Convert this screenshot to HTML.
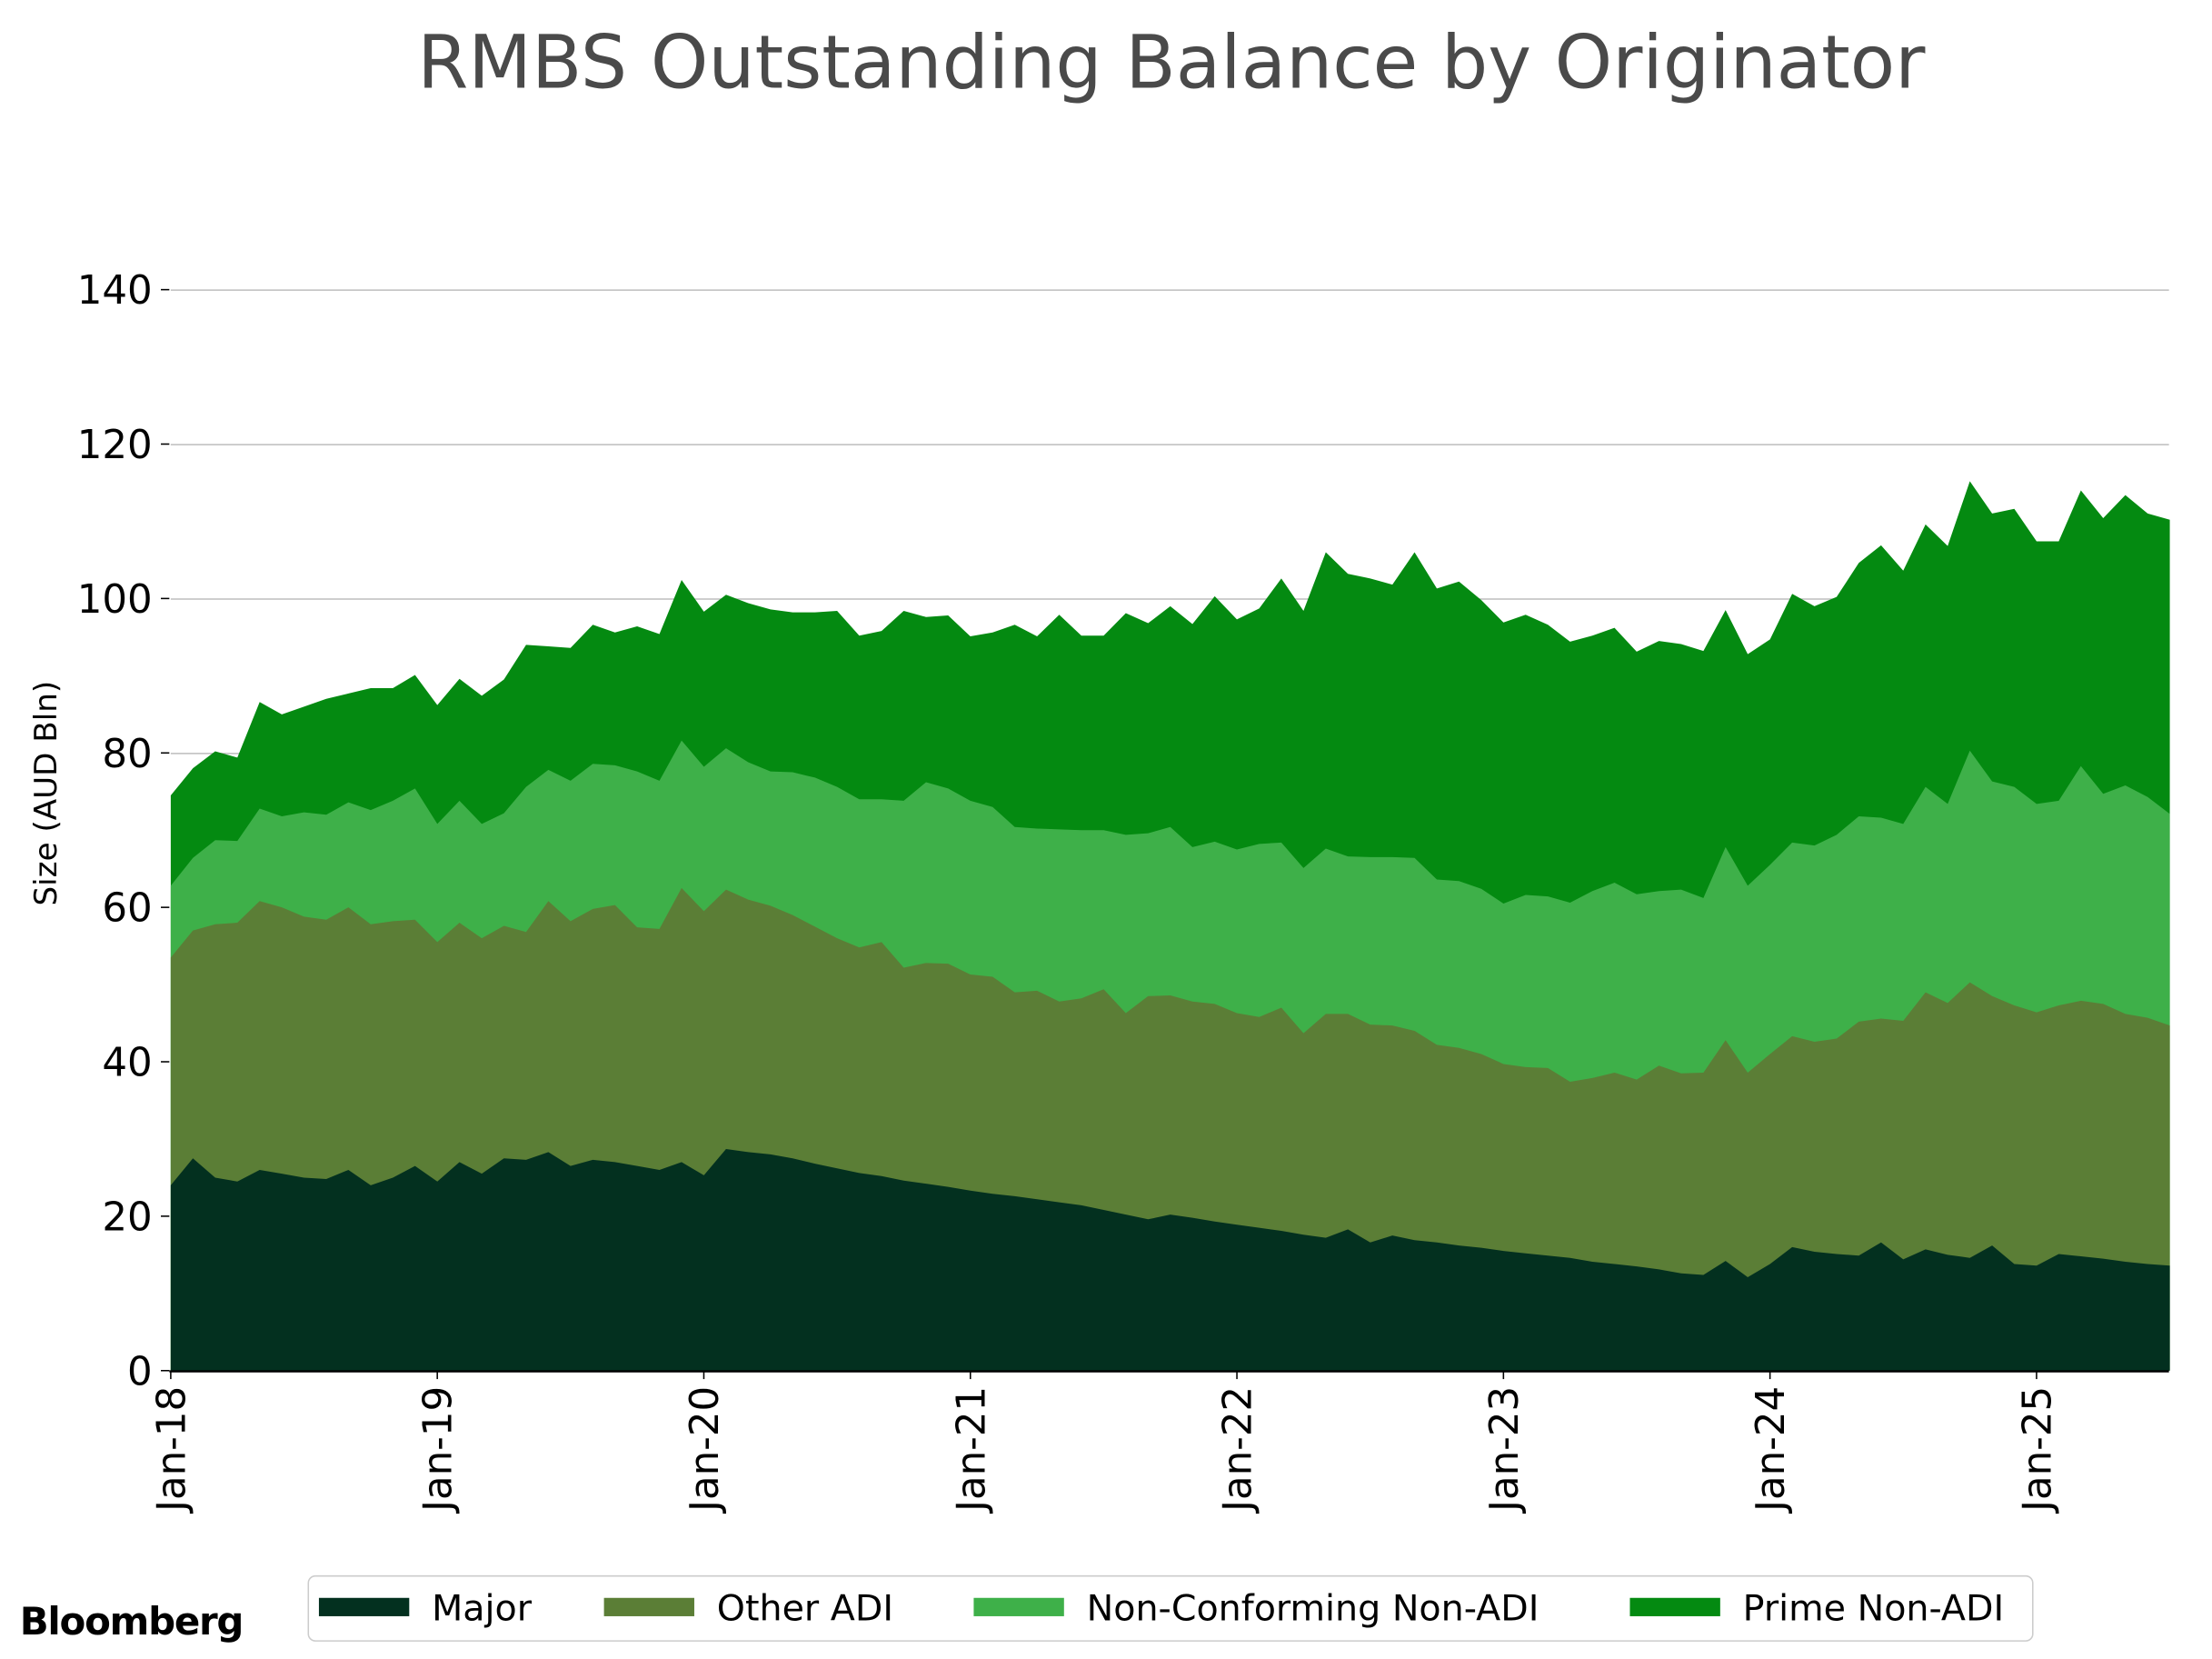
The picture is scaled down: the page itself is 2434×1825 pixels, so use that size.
<!DOCTYPE html>
<html><head><meta charset="utf-8"><style>
html,body{margin:0;padding:0;background:#fff}
svg{display:block}
text{font-family:"DejaVu Sans","Liberation Sans",sans-serif}
</style></head><body>
<svg id="s" width="2434" height="1825" viewBox="0 0 1567.5 1175.3" preserveAspectRatio="none" xmlns="http://www.w3.org/2000/svg">
<rect width="1568" height="1176" fill="#fff"/>
<text x="830" y="62" font-size="52" fill="#4a4a4a" text-anchor="middle">RMBS Outstanding Balance by Originator</text>
<g stroke="#bdbdbd" stroke-width="1">
<line x1="121" x2="1537" y1="205.5" y2="205.5"/>
<line x1="121" x2="1537" y1="315" y2="315"/>
<line x1="121" x2="1537" y1="424.4" y2="424.4"/>
<line x1="121" x2="1537" y1="533.8" y2="533.8"/>
<line x1="121" x2="1537" y1="643.2" y2="643.2"/>
<line x1="121" x2="1537" y1="752.6" y2="752.6"/>
<line x1="121" x2="1537" y1="862" y2="862"/>
</g>
<g id="areas"></g>
<line x1="120" x2="1537" y1="971.5" y2="971.5" stroke="#000" stroke-width="1.5"/>
<g id="yt" font-size="28" fill="#000" text-anchor="end"></g>
<g id="xt" font-size="28" fill="#000" text-anchor="end"></g>
<text transform="translate(40,562) rotate(-90)" font-size="22" text-anchor="middle" fill="#000">Size (AUD Bln)</text>
<rect x="218.5" y="1116.5" width="1222" height="46" rx="5" fill="#fff" stroke="#ccc"/>
<g font-size="25.5" fill="#000">
<rect x="226" y="1132" width="64" height="13" fill="#03301f"/><text x="306" y="1148">Major</text>
<rect x="428" y="1132" width="64" height="13" fill="#5b7e36"/><text x="508" y="1148">Other ADI</text>
<rect x="690" y="1132" width="64" height="13" fill="#3eb049"/><text x="770" y="1148">Non-Conforming Non-ADI</text>
<rect x="1155" y="1132" width="64" height="13" fill="#048a11"/><text x="1235" y="1148">Prime Non-ADI</text>
</g>
<text x="14" y="1158" font-size="27" font-weight="bold" fill="#000" font-family="Liberation Sans,sans-serif" letter-spacing="-0.8">Bloomberg</text>
</svg>
<script>
var M=[24,27.5,25,24.5,26,25.5,25,24.8,26,24,25,26.5,24.5,27,25.5,27.5,27.3,28.3,26.5,27.3,27,26.5,26,27,25.3,28.7,28.3,28,27.5,26.8,26.2,25.6,25.2,24.6,24.2,23.8,23.3,22.9,22.6,22.2,21.8,21.4,20.8,20.2,19.6,20.2,19.8,19.3,18.9,18.5,18.1,17.6,17.2,18.3,16.6,17.5,16.9,16.6,16.2,15.9,15.5,15.2,14.9,14.6,14.1,13.8,13.5,13.1,12.6,12.4,14.2,12.1,13.8,16,15.4,15.1,14.9,16.6,14.4,15.7,15,14.6,16.2,13.8,13.6,15.1,14.8,14.5,14.1,13.8,13.6];
var O=[53.5,57,57.8,58,60.8,60,58.8,58.4,60,57.8,58.2,58.4,55.5,58,56,57.6,56.8,60.8,58.2,59.8,60.3,57.4,57.2,62.5,59.5,62.3,61,60.2,59,57.5,56,54.8,55.5,52.2,52.8,52.7,51.3,51,49,49.2,47.8,48.2,49.4,46.3,48.5,48.6,47.8,47.5,46.3,45.8,47,43.7,46.2,46.2,44.8,44.7,44,42.2,41.8,41,39.7,39.3,39.2,37.4,37.9,38.6,37.7,39.5,38.5,38.6,42.8,38.6,41,43.3,42.6,43,45.2,45.6,45.3,49,47.6,50.3,48.5,47.3,46.4,47.3,47.9,47.5,46.2,45.7,44.7];
var N=[62.8,66.4,68.7,68.6,72.8,71.8,72.3,72,73.6,72.6,73.8,75.4,70.8,73.8,70.8,72.2,75.6,77.8,76.4,78.6,78.4,77.6,76.4,81.6,78.2,80.6,78.8,77.6,77.5,76.8,75.6,74,74,73.8,76.2,75.4,73.8,73,70.4,70.2,70.1,70,70,69.4,69.6,70.4,67.8,68.5,67.5,68.2,68.4,65.1,67.6,66.6,66.5,66.5,66.4,63.6,63.4,62.4,60.5,61.6,61.4,60.6,62.1,63.2,61.7,62.1,62.3,61.2,67.8,62.8,65.5,68.4,68,69.4,71.8,71.6,70.8,75.6,73.4,80.3,76.3,75.6,73.4,73.8,78.3,74.7,75.8,74.3,72.1];
var P=[74.5,78,80.2,79.4,86.6,85,86,87,87.7,88.4,88.4,90.1,86.2,89.6,87.4,89.5,94,93.8,93.6,96.6,95.6,96.4,95.4,102.4,98.3,100.5,99.4,98.6,98.2,98.2,98.4,95.2,95.8,98.4,97.6,97.8,95.1,95.6,96.6,95.1,97.9,95.2,95.2,98.1,96.8,99,96.7,100.3,97.3,98.7,102.6,98.4,106,103.2,102.6,101.8,106,101.3,102.2,99.8,96.9,97.9,96.6,94.4,95.2,96.2,93.1,94.5,94.1,93.2,98.5,92.8,94.7,100.6,99,100.2,104.6,106.9,103.6,109.6,106.8,115.2,111,111.6,107.4,107.4,114,110.4,113.4,111,110.2];
function X(i){return 121+i*15.74}function Y(v){return 971-v*5.47}
var ns="http://www.w3.org/2000/svg",g=document.getElementById('areas');
[[P,'#048a11'],[N,'#3eb049'],[O,'#5b7e36'],[M,'#03301f']].forEach(function(a){
 var d='M'+X(0)+','+Y(0);a[0].forEach(function(v,i){d+='L'+X(i).toFixed(1)+','+Y(v).toFixed(1)});
 d+='L'+X(a[0].length-1)+','+Y(0)+'Z';var p=document.createElementNS(ns,'path');p.setAttribute('d',d);p.setAttribute('fill',a[1]);g.appendChild(p);});
var yt=document.getElementById('yt');
for(var v=0;v<=140;v+=20){var t=document.createElementNS(ns,'text');t.setAttribute('x',108);t.setAttribute('y',Y(v)+10);t.textContent=v;yt.appendChild(t);
 var l=document.createElementNS(ns,'line');l.setAttribute('x1',114);l.setAttribute('x2',120);l.setAttribute('y1',Y(v));l.setAttribute('y2',Y(v));l.setAttribute('stroke','#000');yt.appendChild(l);}
var xt=document.getElementById('xt');
for(var k=0;k<8;k++){var x=X(k*12);var t=document.createElementNS(ns,'text');t.setAttribute('transform','translate('+(x+10)+',982) rotate(-90)');t.textContent='Jan-'+(18+k);xt.appendChild(t);
 var l=document.createElementNS(ns,'line');l.setAttribute('x1',x);l.setAttribute('x2',x);l.setAttribute('y1',971);l.setAttribute('y2',977);l.setAttribute('stroke','#000');xt.appendChild(l);}
</script>
</body></html>
